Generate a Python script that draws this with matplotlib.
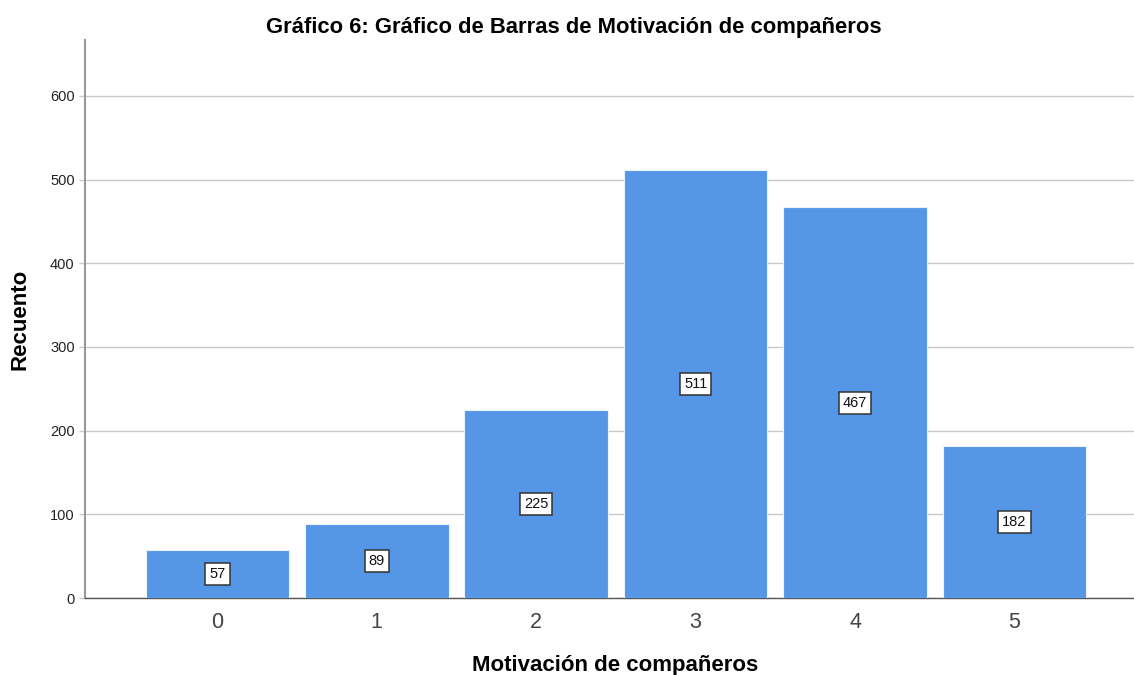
import matplotlib

matplotlib.use("Agg")
import matplotlib.pyplot as plt

plt.rcParams["font.family"] = ["Liberation Sans", "DejaVu Sans"]

categorias = ["0", "1", "2", "3", "4", "5"]
recuentos = [57, 89, 225, 511, 467, 182]
y_ticks = [0, 100, 200, 300, 400, 500, 600]

fig = plt.figure(figsize=(11.34, 6.75), dpi=100)
ax = fig.add_axes([0.075, 0.114, 0.925, 0.827])

x = list(range(len(categorias)))
ax.bar(x, recuentos, width=0.9, color="#5596E6", edgecolor="#EAF2FC", linewidth=0.8, zorder=3)

for xi, v in zip(x, recuentos):
    ax.text(xi, v / 2, str(v), ha="center", va="center", fontsize=10.5, color="#111111", zorder=4,
            bbox=dict(boxstyle="square,pad=0.28", facecolor="white", edgecolor="#333333", linewidth=1.1))

ax.set_xlim(-0.83, 5.75)
ax.set_ylim(0, 667)
ax.set_yticks(y_ticks)
ax.set_xticks(x)
ax.set_xticklabels(categorias, fontsize=15.5, color="#444444")
ax.tick_params(axis="y", labelsize=10.5, length=4, color="#C8C8C8", width=1, labelcolor="#222222")
ax.tick_params(axis="x", length=0, pad=10)
ax.grid(axis="y", color="#C8C8C8", linewidth=1, zorder=0)

ax.spines["top"].set_visible(False)
ax.spines["right"].set_visible(False)
ax.spines["left"].set_color("#999999")
ax.spines["left"].set_linewidth(1.5)
ax.spines["bottom"].set_color("#555555")
ax.spines["bottom"].set_linewidth(1)

ax.set_xlabel("Motivación de compañeros", fontsize=16, fontweight="bold", labelpad=15)
ax.xaxis.set_label_coords(0.5057, -0.102)
ax.set_ylabel("Recuento", fontsize=16, fontweight="bold", labelpad=14)
fig.text(0.506, 0.959, "Gráfico 6: Gráfico de Barras de Motivación de compañeros",
         ha="center", va="center", fontsize=15.8, fontweight="bold")

plt.savefig("out.png", dpi=100)
plt.close(fig)
